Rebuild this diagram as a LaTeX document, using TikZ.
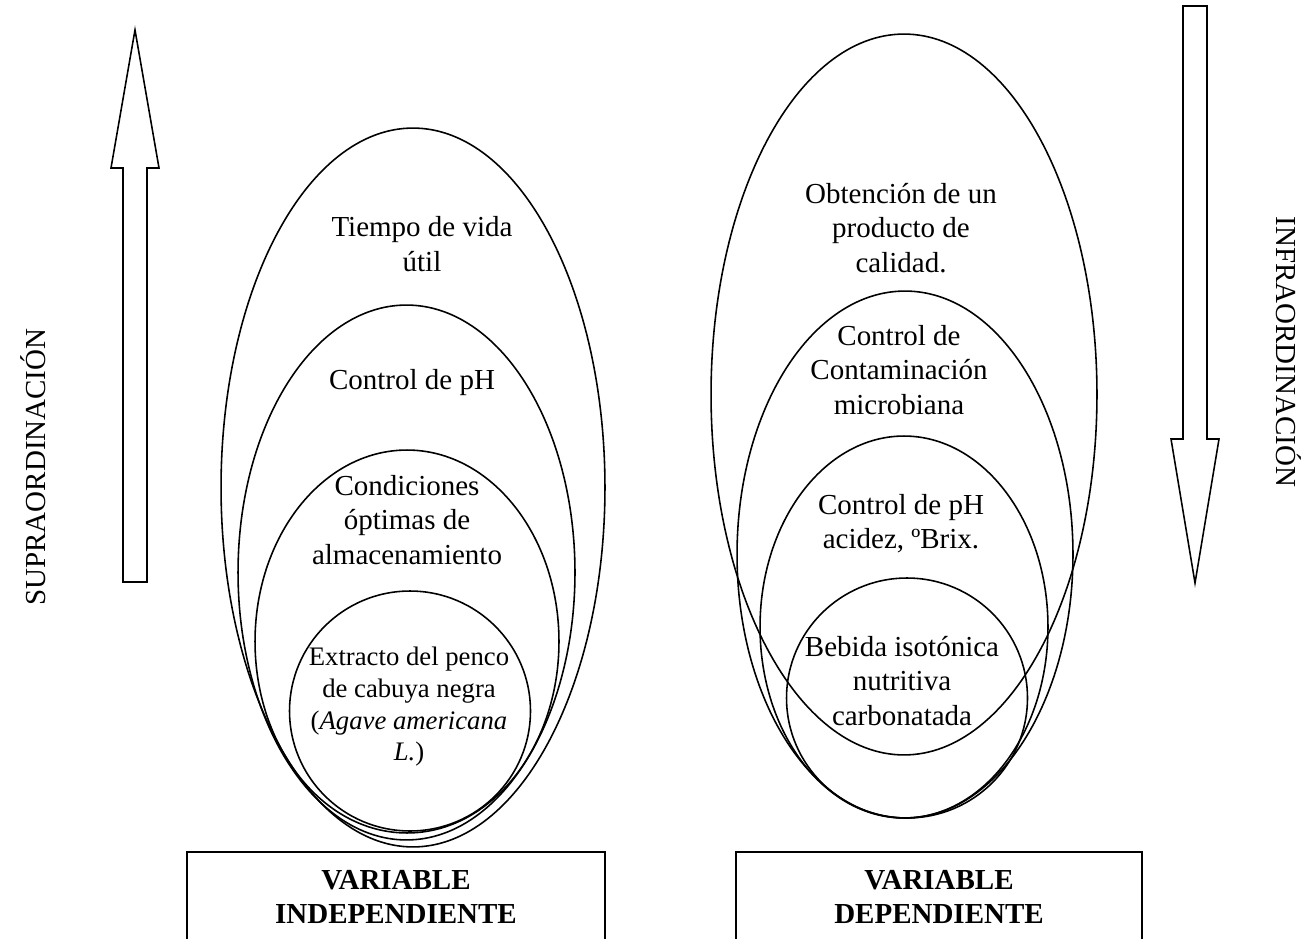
\documentclass[tikz,border=0pt]{standalone}
\usepackage{fontspec}
\setmainfont{Liberation Serif}
\usetikzlibrary{shapes,positioning}

\begin{document}
\begin{tikzpicture}[x=0.02cm, y=-0.02cm,
    oval/.style={ellipse, draw, line width=0.9pt, inner sep=0pt},
    txt/.style={align=center, font=\fontsize{16.5}{19.5}\selectfont},
    smalltxt/.style={align=center, font=\fontsize{15.2}{18}\selectfont},
    varbox/.style={rectangle, draw, line width=0.9pt, minimum height=1.8cm, align=center, font=\fontsize{16.5}{19}\selectfont\bfseries},
    bigarrow/.style={draw, line width=0.9pt, line join=miter}]

    \useasboundingbox (0,0) rectangle (1308,939);
    \clip (0,0) rectangle (1308,939);

    % Supraordination arrow
    \draw[bigarrow] (123,582) -- (123,168) -- (111,168) -- (135,30) -- (159,168) -- (147,168) -- (147,582) -- cycle;
    \node[txt, rotate=90] (supra) at (33, 467) {SUPRAORDINACIÓN};

    % Infraordination arrow
    \draw[bigarrow] (1183,6) -- (1183,439) -- (1171,439) -- (1195,583) -- (1219,439) -- (1207,439) -- (1207,6) -- cycle;
    \node[txt, rotate=-90] (infra) at (1289, 352) {INFRAORDINACIÓN};

    % Independent variable
    \node[oval, minimum width=7.68cm, minimum height=14.38cm] (tiempo) at (413, 487.5) {};
    \node[oval, minimum width=6.74cm, minimum height=10.70cm] (ph) at (406.5, 572.5) {};
    \node[oval, minimum width=6.08cm, minimum height=7.66cm] (cond) at (407, 641.5) {};
    \node[oval, minimum width=4.82cm, minimum height=4.80cm] (extr) at (410, 711) {};

    \node[txt] (tiempotxt) at (422, 244) {Tiempo de vida\\útil};
    \node[txt] (phtxt) at (412, 383) {Control de pH};
    \node[txt] (condtxt) at (407, 520) {Condiciones\\óptimas de\\almacenamiento};
    \node[smalltxt] (extrtxt) at (409, 707) {Extracto del penco\\de cabuya negra\\(\textit{Agave americana}\\\textit{L.})};

    % Dependent variable
    \node[oval, minimum width=7.72cm, minimum height=14.42cm] (obt) at (904, 394.5) {};
    \node[oval, minimum width=6.72cm, minimum height=10.54cm] (cont) at (905, 554.5) {};
    \node[oval, minimum width=5.76cm, minimum height=7.64cm] (phr) at (904, 627) {};
    \node[oval, minimum width=4.82cm, minimum height=4.80cm] (beb) at (907, 698) {};

    \node[txt] (obttxt) at (901, 228) {Obtención de un\\producto de\\calidad.};
    \node[txt] (conttxt) at (899, 370) {Control de\\Contaminación\\microbiana};
    \node[txt] (phrtxt) at (901, 524) {Control de pH\\acidez, ºBrix.};
    \node[txt] (bebtxt) at (902, 681) {Bebida isotónica\\nutritiva\\carbonatada};

    % Variable boxes
    \node[varbox, minimum width=8.36cm] (indep) at (396, 897) {VARIABLE\\INDEPENDIENTE};
    \node[varbox, minimum width=8.12cm] (dep) at (939, 897) {VARIABLE\\DEPENDIENTE};

\end{tikzpicture}
\end{document}
